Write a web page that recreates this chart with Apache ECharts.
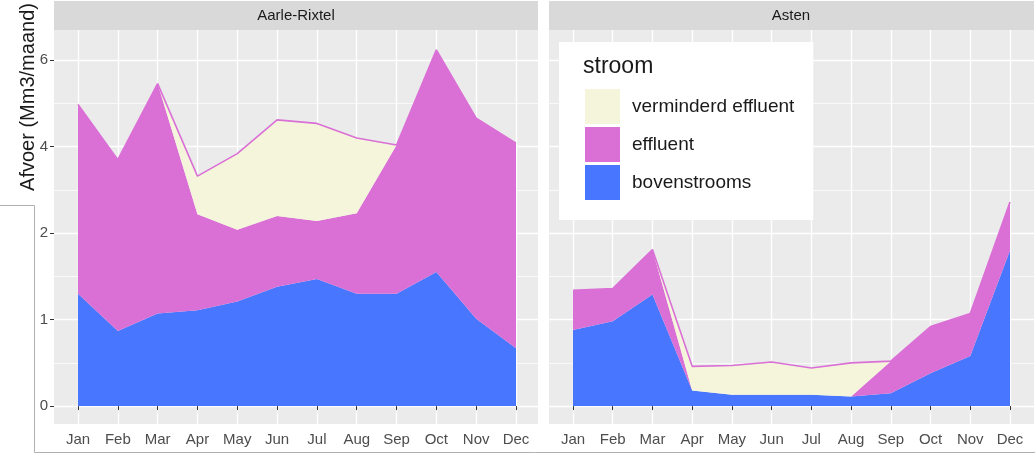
<!DOCTYPE html>
<html>
<head>
<meta charset="utf-8">
<script src="https://cdn.jsdelivr.net/npm/echarts@6/dist/echarts.min.js"></script>
<style>
  html, body { margin: 0; padding: 0; background: #fff; }
  #chart { width: 1035px; height: 454px; }
</style>
</head>
<body>
<div id="chart"></div>
<script>
// months on the x axis
var months = ['Jan', 'Feb', 'Mar', 'Apr', 'May', 'Jun', 'Jul', 'Aug', 'Sep', 'Oct', 'Nov', 'Dec'];

// the y axis is evenly spaced but labelled 0,1,2,4,6 -> values below are in axis steps
var yTickLabels = ['0', '1', '2', '4', '6'];

// Aarle-Rixtel (stacked: bovenstrooms, effluent, verminderd effluent)
var aarleBoven = [1.30, 0.87, 1.07, 1.11, 1.21, 1.38, 1.47, 1.30, 1.30, 1.55, 1.01, 0.67];
var aarleEffluent = [2.19, 1.98, 2.66, 1.11, 0.83, 0.82, 0.67, 0.93, 1.72, 2.57, 2.32, 2.37];
var aarleVerminderd = [0, 0, 0, 0.44, 0.88, 1.11, 1.13, 0.87, 0, 0, 0, 0];

// Asten
var astenBoven = [0.88, 0.98, 1.29, 0.18, 0.13, 0.13, 0.13, 0.11, 0.15, 0.38, 0.58, 1.80];
var astenEffluent = [0.46, 0.38, 0.52, 0, 0, 0, 0, 0, 0.37, 0.54, 0.49, 0.56];
var astenVerminderd = [0, 0, 0, 0.28, 0.34, 0.38, 0.31, 0.39, 0, 0, 0, 0];

var colBoven = '#4876FF';
var colEffluent = '#DA70D6';
var colVerminderd = '#F5F5DC';

var yMin = -0.207, yMax = 4.35;
var labelColor = '#4d4d4d';
var font = 'Liberation Sans, Arial, sans-serif';

function yLabel(v) {
    var i = Math.round(v);
    if (Math.abs(v - i) > 1e-6) return '';
    return yTickLabels[i] || '';
}

function bgYAxis(gridIndex, withLabels) {
    return {
        type: 'value', gridIndex: gridIndex, min: yMin, max: yMax, splitNumber: 5,
        axisLine: { show: false },
        axisTick: { show: withLabels, length: 4, lineStyle: { color: '#333', width: 1 } },
        axisLabel: {
            show: withLabels, formatter: yLabel, color: labelColor, fontSize: 15,
            fontFamily: font, margin: 6, showMinLabel: false, showMaxLabel: false
        },
        splitLine: { show: true, showMinLine: false, showMaxLine: false, lineStyle: { color: '#fff', width: 1.3 } },
        minorTick: { show: false, splitNumber: 2 },
        minorSplitLine: { show: true, lineStyle: { color: '#fff', width: 0.7 } }
    };
}

function dataXAxis(gridIndex) {
    return {
        type: 'category', gridIndex: gridIndex, data: months, boundaryGap: false,
        axisLine: { show: false },
        axisTick: { show: true, length: 4, interval: 0, lineStyle: { color: '#333', width: 1 } },
        axisLabel: { interval: 0, color: labelColor, fontSize: 15, fontFamily: font, margin: 8 },
        splitLine: { show: true, interval: 0, lineStyle: { color: '#fff', width: 1.3 } }
    };
}

function areaSeries(name, data, axisIdx, stack, color, topLine) {
    return {
        name: name, type: 'line', data: data, stack: stack,
        xAxisIndex: axisIdx, yAxisIndex: axisIdx,
        symbol: 'none', showSymbol: false, silent: true,
        color: color,
        itemStyle: { color: color },
        lineStyle: topLine ? { color: colEffluent, width: 1.6 } : { width: 0, color: color },
        areaStyle: { color: color, opacity: 1 },
        z: 2
    };
}

var option = {
    animation: false,
    grid: [
        { left: 54, top: 30, width: 484, height: 394, show: true, backgroundColor: '#ebebeb', borderWidth: 0 },
        { left: 78, top: 30, width: 438, height: 394 },
        { left: 549, top: 30, width: 485, height: 394, show: true, backgroundColor: '#ebebeb', borderWidth: 0 },
        { left: 573, top: 30, width: 437, height: 394 }
    ],
    xAxis: [
        { type: 'value', gridIndex: 0, min: 0, max: 1, show: false },
        dataXAxis(1),
        { type: 'value', gridIndex: 2, min: 0, max: 1, show: false },
        dataXAxis(3)
    ],
    yAxis: [
        bgYAxis(0, true),
        { type: 'value', gridIndex: 1, min: yMin, max: yMax, show: false },
        bgYAxis(2, false),
        { type: 'value', gridIndex: 3, min: yMin, max: yMax, show: false }
    ],
    legend: {
        left: 559, top: 42, orient: 'vertical',
        data: ['verminderd effluent', 'effluent', 'bovenstrooms'],
        icon: 'rect', itemWidth: 35, itemHeight: 35, itemGap: 3,
        backgroundColor: '#fff', padding: [47, 19, 20, 26],
        itemStyle: { borderWidth: 0 },
        selectedMode: false,
        textStyle: { fontSize: 19, color: '#1a1a1a', fontFamily: font, padding: [0, 0, 0, 7] }
    },
    graphic: [
        { type: 'rect', shape: { x: 54, y: 1, width: 484, height: 29 }, style: { fill: '#d9d9d9' }, silent: true },
        { type: 'rect', shape: { x: 549, y: 1, width: 485, height: 29 }, style: { fill: '#d9d9d9' }, silent: true },
        { type: 'text', x: 296, y: 16, style: { text: 'Aarle-Rixtel', fill: '#1a1a1a', font: '15px ' + font, textAlign: 'center', textVerticalAlign: 'middle' } },
        { type: 'text', x: 791, y: 16, style: { text: 'Asten', fill: '#1a1a1a', font: '15px ' + font, textAlign: 'center', textVerticalAlign: 'middle' } },
        { type: 'text', x: 28, y: 97, rotation: Math.PI / 2, style: { text: 'Afvoer (Mm3/maand)', fill: '#1a1a1a', font: '20px ' + font, textAlign: 'center', textVerticalAlign: 'middle' } },
        { type: 'text', x: 583, y: 67, z: 100, style: { text: 'stroom', fill: '#1a1a1a', font: '23px ' + font, textAlign: 'left', textVerticalAlign: 'middle' } },
        { type: 'polyline', shape: { points: [[0, 205.5], [34.5, 205.5], [34.5, 452.5], [1035, 452.5]] }, style: { stroke: '#b0b0b0', fill: null, lineWidth: 1 }, silent: true }
    ],
    series: [
        areaSeries('bovenstrooms', aarleBoven, 1, 'aarle', colBoven, false),
        areaSeries('effluent', aarleEffluent, 1, 'aarle', colEffluent, false),
        areaSeries('verminderd effluent', aarleVerminderd, 1, 'aarle', colVerminderd, true),
        areaSeries('bovenstrooms', astenBoven, 3, 'asten', colBoven, false),
        areaSeries('effluent', astenEffluent, 3, 'asten', colEffluent, false),
        areaSeries('verminderd effluent', astenVerminderd, 3, 'asten', colVerminderd, true)
    ]
};

echarts.init(document.getElementById('chart')).setOption(option);
</script>
</body>
</html>
